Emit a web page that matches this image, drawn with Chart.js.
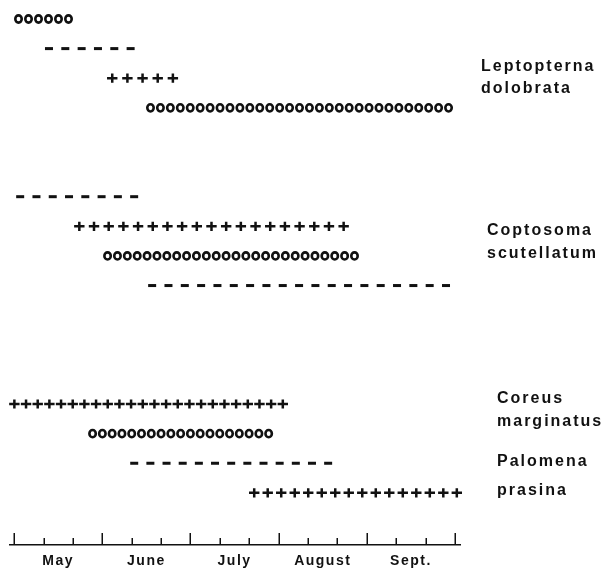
<!DOCTYPE html>
<html>
<head>
<meta charset="utf-8">
<title>Phenology</title>
<script src="https://cdn.jsdelivr.net/npm/chart.js"></script>
<style>
  html, body { margin: 0; padding: 0; background: #fff; }
  #wrap { width: 605px; height: 570px; }
</style>
</head>
<body>
<div id="wrap"><canvas id="chart" width="605" height="570"></canvas></div>
<script>
// x values are in 10-day steps counted from 1 May (3 steps per month)
const months = ["May", "June", "July", "August", "Sept."];
const tickSteps = [0, 1, 2, 3, 4, 5, 6, 7, 8, 9, 10, 11, 12, 13, 14, 15];

const species = [
  ["Leptopterna", "dolobrata"],
  ["Coptosoma", "scutellatum"],
  ["Coreus", "marginatus"],
  ["Palomena", "prasina"],
];

// one entry per printed row, top to bottom
const rowLane = [0, 1, 2, 3, 6, 7, 8, 9, 13, 14, 15, 16];
const rowStage = ["egg", "larva", "adult", "egg",
                  "larva", "adult", "egg", "larva",
                  "adult", "egg", "larva", "adult"];
const rowStart = [0.0, 1.05, 3.16, 4.49, 0.07, 2.04, 3.03, 4.56, -0.17, 2.52, 3.95, 7.99];
const rowEnd   = [2.0, 4.1, 5.58, 14.93, 4.22, 11.39, 11.73, 14.83, 9.32, 8.81, 10.82, 15.24];

const INK = "#111";
const glyph = {
  egg:   { w: 8.8, pitch: 10 },
  larva: { w: 8, pitch: 16.1 },
  adult: { w: 10.5, pitch: 14.6 },
};
const pitchOverride = { 8: 11.7, 11: 13.5 }; // rows printed tighter

function drawGlyph(ctx, stage, cx, cy) {
  if (stage === "egg") {
    ctx.beginPath();
    ctx.ellipse(cx, cy, 3.2, 3.6, 0, 0, Math.PI * 2);
    ctx.stroke();
  } else if (stage === "larva") {
    ctx.fillRect(cx - 4, cy - 1.5, 8, 3);
  } else {
    ctx.beginPath();
    ctx.moveTo(cx - 5.2, cy); ctx.lineTo(cx + 5.2, cy);
    ctx.moveTo(cx, cy - 4.6); ctx.lineTo(cx, cy + 4.6);
    ctx.stroke();
  }
}

const glyphRows = {
  id: "glyphRows",
  afterDatasetsDraw(chart) {
    const ctx = chart.ctx;
    const bars = chart.getDatasetMeta(0).data;
    ctx.save();
    ctx.fillStyle = INK;
    ctx.strokeStyle = INK;
    bars.forEach((bar, i) => {
      const stage = rowStage[i];
      const g = glyph[stage];
      const pitch = pitchOverride[i] || g.pitch;
      const x0 = Math.min(bar.base, bar.x), x1 = Math.max(bar.base, bar.x);
      const span = x1 - x0 - g.w;
      const n = Math.max(1, Math.round(span / pitch) + 1);
      const step = n > 1 ? span / (n - 1) : 0;
      ctx.lineWidth = stage === "egg" ? 2.6 : 2.5;
      for (let k = 0; k < n; k++) {
        drawGlyph(ctx, stage, x0 + g.w / 2 + k * step, bar.y);
      }
    });
    ctx.restore();
  },
};

const axisTicks = {
  id: "axisTicks",
  beforeDraw(chart) {
    chart.ctx.letterSpacing = "1.5px";
  },
  afterDraw(chart) {
    const ctx = chart.ctx;
    const x = chart.scales.x;
    const base = x.top;
    ctx.save();
    ctx.strokeStyle = INK;
    ctx.lineWidth = 1.5;
    tickSteps.forEach((v) => {
      const px = Math.round(x.getPixelForValue(v)) + 0.25;
      const len = v % 3 === 0 ? 12 : 7;
      ctx.beginPath();
      ctx.moveTo(px, base);
      ctx.lineTo(px, base - len);
      ctx.stroke();
    });
    ctx.restore();
  },
};

const speciesLabels = {
  id: "speciesLabels",
  afterDraw(chart, args, opts) {
    const ctx = chart.ctx;
    const y = chart.scales.y;
    ctx.save();
    ctx.letterSpacing = "2px";
    ctx.fillStyle = INK;
    ctx.font = "bold 16px 'Liberation Sans', Arial, sans-serif";
    ctx.textBaseline = "middle";
    ctx.textAlign = "left";
    species.forEach((lines, i) => {
      lines.forEach((t, j) => {
        ctx.fillText(t, chart.chartArea.right + opts.dx[i], y.getPixelForValue(opts.lane[i][j]));
      });
    });
    ctx.restore();
  },
};

new Chart(document.getElementById("chart"), {
  type: "bar",
  data: {
    datasets: [{
      data: rowLane.map((lane, i) => ({ x: [rowStart[i], rowEnd[i]], y: lane })),
      backgroundColor: "rgba(0,0,0,0)",
      borderWidth: 0,
      barThickness: 10,
    }],
  },
  options: {
    indexAxis: "y",
    responsive: false,
    animation: false,
    devicePixelRatio: 1,
    layout: { padding: { left: 10, right: 145, top: 0, bottom: 0 } },
    plugins: {
      legend: { display: false },
      tooltip: { enabled: false },
      speciesLabels: {
        dx: [21, 27, 37, 37],
        lane: [[1.62, 2.36], [7.16, 7.93], [12.83, 13.6], [14.95, 15.93]],
      },
    },
    scales: {
      x: {
        type: "linear",
        min: -0.14,
        max: 15.17,
        grid: { display: false, drawTicks: false },
        border: { display: true, color: INK, width: 1.5 },
        afterBuildTicks(scale) {
          scale.ticks = months.map((m, i) => ({ value: 1.5 + 3 * i }));
        },
        afterFit(scale) {
          scale.height = 25;
        },
        ticks: {
          padding: 8,
          color: INK,
          font: { family: "'Liberation Sans', Arial, sans-serif", size: 14, weight: "bold" },
          callback: (v, i) => months[i],
          maxRotation: 0,
          autoSkip: false,
        },
      },
      y: {
        type: "linear",
        reverse: true,
        display: false,
        offset: false,
        grace: 0,
        min: -0.641,
        max: 17.76,
      },
    },
  },
  plugins: [glyphRows, axisTicks, speciesLabels],
});
</script>
</body>
</html>
